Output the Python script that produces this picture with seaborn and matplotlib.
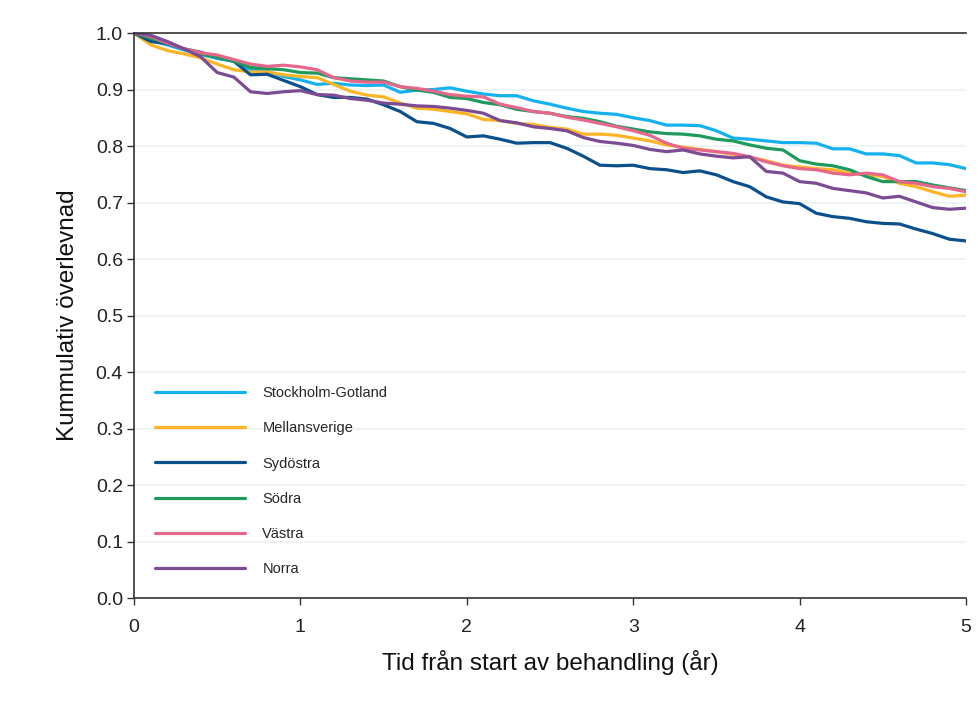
import numpy as np
import pandas as pd
import matplotlib
matplotlib.use("Agg")
import matplotlib.pyplot as plt
import seaborn as sns

# Time points (years) and survival estimates
years = [round(i * 0.1, 1) for i in range(51)]

stockholm_gotland = [
    1.0, 0.988, 0.979, 0.970, 0.962, 0.955, 0.950, 0.935, 0.932, 0.923,
    0.917, 0.909, 0.911, 0.908, 0.907, 0.908, 0.895, 0.899, 0.900, 0.903,
    0.897, 0.892, 0.889, 0.889, 0.880, 0.874, 0.867, 0.861, 0.858, 0.856,
    0.850, 0.845, 0.837, 0.837, 0.836, 0.827, 0.814, 0.812, 0.809, 0.806,
    0.806, 0.805, 0.795, 0.795, 0.786, 0.786, 0.783, 0.770, 0.770, 0.767,
    0.760,
]
mellansverige = [
    1.0, 0.979, 0.969, 0.963, 0.956, 0.945, 0.935, 0.931, 0.931, 0.926,
    0.923, 0.921, 0.909, 0.897, 0.890, 0.887, 0.876, 0.867, 0.865, 0.861,
    0.857, 0.847, 0.845, 0.840, 0.838, 0.833, 0.830, 0.821, 0.821, 0.819,
    0.814, 0.809, 0.802, 0.798, 0.794, 0.790, 0.785, 0.780, 0.774, 0.766,
    0.763, 0.760, 0.758, 0.752, 0.749, 0.746, 0.734, 0.728, 0.719, 0.711,
    0.713,
]
sydostra = [
    1.0, 0.985, 0.981, 0.972, 0.966, 0.957, 0.950, 0.926, 0.927, 0.916,
    0.905, 0.891, 0.886, 0.886, 0.883, 0.873, 0.861, 0.843, 0.840, 0.831,
    0.816, 0.818, 0.812, 0.805, 0.806, 0.806, 0.796, 0.782, 0.766, 0.765,
    0.766, 0.760, 0.758, 0.753, 0.756, 0.749, 0.737, 0.728, 0.710, 0.701,
    0.698, 0.681, 0.675, 0.672, 0.666, 0.663, 0.662, 0.653, 0.645, 0.635,
    0.632,
]
sodra = [
    1.0, 0.991, 0.982, 0.972, 0.963, 0.957, 0.950, 0.939, 0.937, 0.935,
    0.930, 0.929, 0.921, 0.919, 0.917, 0.915, 0.905, 0.899, 0.895, 0.886,
    0.884, 0.877, 0.873, 0.865, 0.861, 0.858, 0.852, 0.849, 0.843, 0.835,
    0.830, 0.825, 0.822, 0.821, 0.818, 0.812, 0.809, 0.802, 0.796, 0.793,
    0.774, 0.768, 0.765, 0.758, 0.746, 0.737, 0.737, 0.737, 0.731, 0.726,
    0.721,
]
vastra = [
    1.0, 0.994, 0.982, 0.972, 0.965, 0.961, 0.953, 0.945, 0.941, 0.943,
    0.940, 0.935, 0.921, 0.915, 0.913, 0.913, 0.905, 0.902, 0.897, 0.891,
    0.888, 0.887, 0.874, 0.868, 0.861, 0.858, 0.851, 0.846, 0.840, 0.834,
    0.827, 0.819, 0.805, 0.796, 0.793, 0.790, 0.787, 0.781, 0.772, 0.765,
    0.760, 0.758, 0.752, 0.749, 0.752, 0.749, 0.737, 0.734, 0.728, 0.725,
    0.719,
]
norra = [
    1.0, 0.996, 0.985, 0.972, 0.958, 0.930, 0.922, 0.896, 0.893, 0.896,
    0.898, 0.891, 0.890, 0.884, 0.881, 0.876, 0.874, 0.871, 0.870, 0.867,
    0.863, 0.858, 0.845, 0.841, 0.834, 0.831, 0.827, 0.815, 0.808, 0.805,
    0.801, 0.794, 0.790, 0.793, 0.786, 0.782, 0.779, 0.781, 0.755, 0.752,
    0.737, 0.734, 0.725, 0.721, 0.717, 0.708, 0.711, 0.701, 0.691, 0.688,
    0.690,
]

regions = ["Stockholm-Gotland", "Mellansverige", "Sydöstra", "Södra", "Västra", "Norra"]
region_values = [stockholm_gotland, mellansverige, sydostra, sodra, vastra, norra]
colors = ["#14b1ee", "#fdb526", "#0b4f8c", "#1d9a5c", "#e6678b", "#7b4b94"]

df = pd.concat(
    [pd.DataFrame({"År": years, "Överlevnad": vals, "Region": name})
     for name, vals in zip(regions, region_values)],
    ignore_index=True,
)

sns.set_style("white")
plt.rcParams["font.family"] = ["Liberation Sans", "DejaVu Sans"]

fig = plt.figure(figsize=(9.79, 7.16), dpi=100)
ax = fig.add_axes([0.1369, 0.1648, 0.8498, 0.7891])

for y in np.arange(0.1, 1.01, 0.1):
    ax.axhline(y, color="#eef3f4", linewidth=1.5, zorder=0)

sns.lineplot(
    data=df, x="År", y="Överlevnad", hue="Region",
    palette=dict(zip(regions, colors)), linewidth=2.3, ax=ax,
)

ax.set_xlim(0, 5)
ax.set_ylim(0, 1.0)
ax.set_xticks(range(6))
ax.set_yticks(np.round(np.arange(0, 1.01, 0.1), 1))
ax.set_yticklabels([f"{v:.1f}" for v in np.arange(0, 1.01, 0.1)])
ax.tick_params(axis="both", direction="out", length=5, width=1,
               labelsize=14, color="#333333", labelcolor="#222222",
               bottom=True, left=True)
ax.tick_params(axis="x", pad=10)
ax.tick_params(axis="y", pad=3)

for side in ["left", "bottom", "top"]:
    ax.spines[side].set_color("#333333")
    ax.spines[side].set_linewidth(1.2)
ax.spines["right"].set_visible(False)

ax.set_xlabel("Tid från start av behandling (år)", fontsize=17.5, labelpad=10, color="#111111")
ax.set_ylabel("Kummulativ överlevnad", fontsize=17.5, labelpad=12, color="#111111")

ax.legend(
    loc="upper left", bbox_to_anchor=(0.0077, 0.4006), frameon=False,
    fontsize=10.5, handlelength=6.2, handletextpad=1.16, labelspacing=1.45,
    borderaxespad=0.0, borderpad=1.0,
)

fig.savefig("out.png", dpi=100)
